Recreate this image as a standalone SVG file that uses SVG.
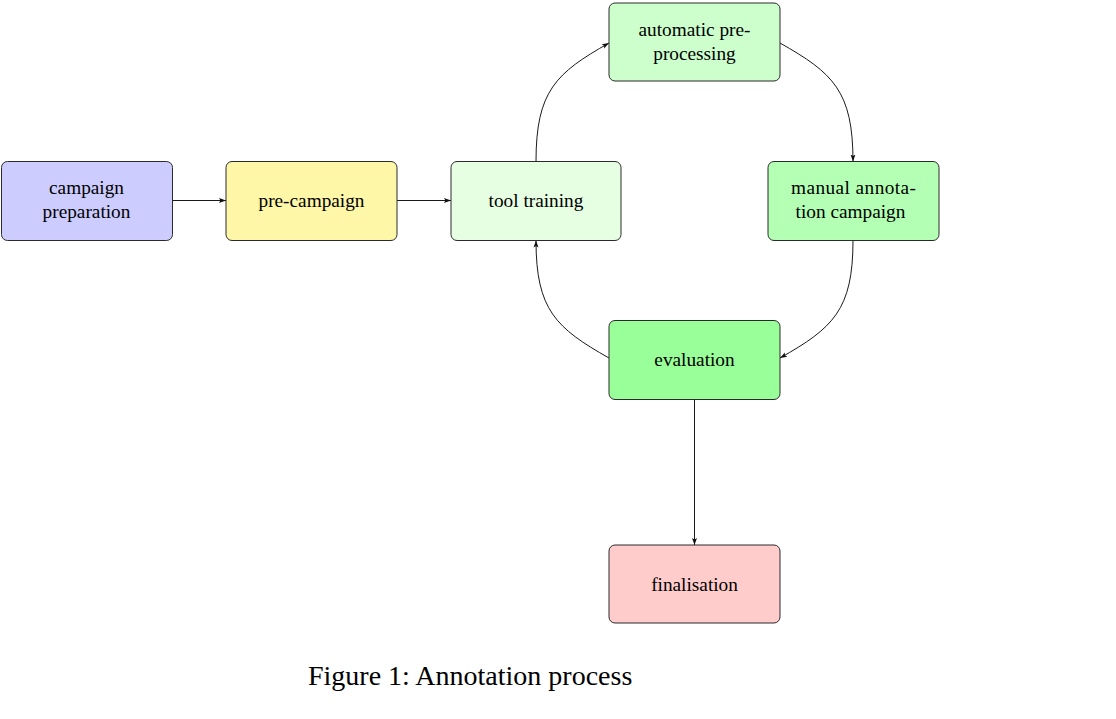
<svg xmlns="http://www.w3.org/2000/svg" width="1116" height="719" viewBox="0 0 1116 719">
<style>
.n{stroke:#2a2a2a;stroke-width:1}
.t{font-family:"Liberation Serif","Times New Roman",serif;font-size:19.3px;fill:#000;text-anchor:middle}
.e{fill:none;stroke:#1a1a1a;stroke-width:1}
.cap{font-family:"Liberation Serif","Times New Roman",serif;font-size:28px;fill:#000}
</style>
<defs>
<marker id="ah" markerUnits="userSpaceOnUse" markerWidth="9" markerHeight="7" refX="7" refY="3.5" orient="auto">
<path d="M0,1 L7,3.5 L0,6 L1.4,3.5 z" fill="#111"/>
</marker>
</defs>
<rect width="1116" height="719" fill="#fff"/>
<g id="edges">
<path class="e" d="M172.5,200.5 L226,200.5" marker-end="url(#ah)"/>
<path class="e" d="M397,200.5 L451,200.5" marker-end="url(#ah)"/>
<path class="e" d="M536,161.5 C536,91 556,73 609,43" marker-end="url(#ah)"/>
<path class="e" d="M780,43 C833,73 853,91 853,161.5" marker-end="url(#ah)"/>
<path class="e" d="M853,240.5 C853,310 833,328 780,358" marker-end="url(#ah)"/>
<path class="e" d="M609,358 C556,328 536,310 536,240.5" marker-end="url(#ah)"/>
<path class="e" d="M694.5,399.5 L694.5,545" marker-end="url(#ah)"/>
</g>
<g id="campaign-preparation">
<rect class="n" x="1.5" y="161.5" width="171" height="79" rx="6" fill="#ccccff"/>
<text class="t" x="86.5" y="194">campaign</text>
<text class="t" x="86.5" y="218.3">preparation</text>
</g>
<g id="pre-campaign">
<rect class="n" x="226" y="161.5" width="171" height="79" rx="6" fill="#fff7a8"/>
<text class="t" x="311.5" y="206.5">pre-campaign</text>
</g>
<g id="tool-training">
<rect class="n" x="451" y="161.5" width="170" height="79" rx="6" fill="#e6ffe2"/>
<text class="t" x="536" y="206.5">tool training</text>
</g>
<g id="automatic-preprocessing">
<rect class="n" x="609" y="3" width="171" height="78" rx="6" fill="#ccffcc"/>
<text class="t" x="694.5" y="36">automatic pre-</text>
<text class="t" x="694.5" y="60">processing</text>
</g>
<g id="manual-annotation-campaign">
<rect class="n" x="768" y="161.5" width="171" height="79" rx="6" fill="#b3ffb3"/>
<text class="t" x="853.5" y="194" textLength="125" lengthAdjust="spacing">manual annota-</text>
<text class="t" x="850.5" y="218.3">tion campaign</text>
</g>
<g id="evaluation">
<rect class="n" x="609" y="320.5" width="171" height="79" rx="6" fill="#99ff99"/>
<text class="t" x="694.5" y="366">evaluation</text>
</g>
<g id="finalisation">
<rect class="n" x="609" y="545" width="171" height="78" rx="6" fill="#ffcccc"/>
<text class="t" x="694.5" y="591">finalisation</text>
</g>
<text class="cap" x="308" y="684.5">Figure 1: Annotation process</text>
</svg>
